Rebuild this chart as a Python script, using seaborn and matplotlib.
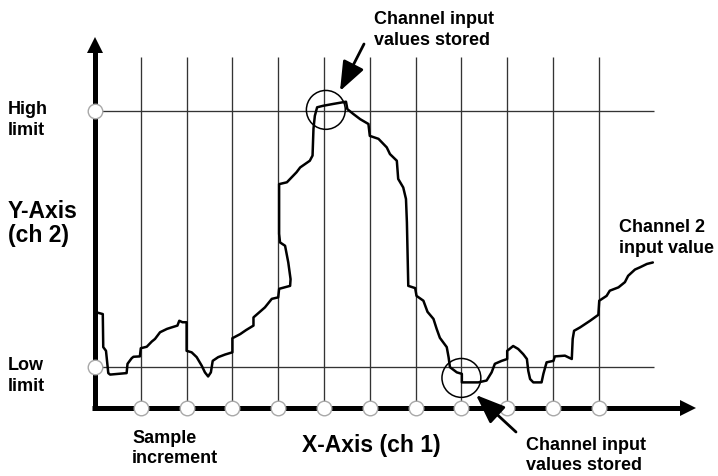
import matplotlib
matplotlib.use("Agg")
import matplotlib.pyplot as plt
import seaborn as sns
import pandas as pd

# Sample increments along the X axis (channel 1)
samples = [1, 2, 3, 4, 5, 6, 7, 8, 9, 10, 11]

# Limits on the Y axis (channel 2), in percent of full scale
low_limit = 11
high_limit = 80

# Channel 2 input trace: position in sample increments, value in percent
trace_x = [0.02, 0.17, 0.18, 0.24, 0.29, 0.33, 0.69, 0.71, 0.80, 0.84, 0.98, 1.00,
           1.13, 1.24, 1.31, 1.42, 1.57, 1.67, 1.80, 1.84, 1.91, 2.00, 2.00, 2.11,
           2.22, 2.33, 2.40, 2.47, 2.53, 2.57, 2.69, 2.84, 3.00, 3.00, 3.17, 3.30,
           3.46, 3.46, 3.71, 3.86, 4.00, 4.02, 4.26, 4.27, 4.22, 4.15, 4.04, 4.02,
           4.02, 4.19, 4.40, 4.48, 4.69, 4.75, 4.77, 4.80, 4.85, 4.98, 5.20, 5.48,
           5.51, 5.64, 5.79, 5.97, 6.00, 6.19, 6.37, 6.44, 6.59, 6.62, 6.73, 6.79,
           6.81, 6.84, 6.99, 7.02, 7.17, 7.26, 7.39, 7.46, 7.53, 7.68, 7.72, 7.75,
           7.90, 8.01, 8.01, 8.37, 8.55, 8.66, 8.73, 8.88, 9.00, 9.00, 9.13, 9.24,
           9.35, 9.43, 9.46, 9.50, 9.57, 9.75, 9.79, 9.86, 10.01, 10.04, 10.26, 10.41,
           10.43, 10.46, 10.59, 10.81, 10.99, 11.01, 11.17, 11.24, 11.43, 11.57, 11.64,
           11.79, 11.90, 12.05, 12.18]
trace_y = [25.8, 25.3, 16.4, 15.4, 9.4, 9.0, 9.4, 11.9, 13.4, 13.8, 13.9, 16.1,
           16.5, 17.9, 18.6, 20.4, 21.3, 21.7, 22.2, 23.5, 23.1, 23.1, 15.4, 15.0,
           13.7, 11.4, 9.6, 8.5, 9.6, 12.7, 13.7, 14.4, 15.0, 18.8, 19.9, 21.0,
           22.2, 24.4, 27.1, 29.4, 29.8, 32.1, 32.9, 34.7, 39.2, 43.7, 44.6, 46.9,
           60.3, 60.8, 63.5, 64.8, 66.6, 68.0, 75.2, 78.7, 81.0, 81.4, 81.9, 82.5,
           80.5, 79.2, 77.8, 76.5, 73.3, 72.5, 70.2, 68.4, 66.6, 61.7, 59.4, 56.3,
           50.0, 32.9, 32.3, 30.2, 28.9, 25.9, 24.0, 21.3, 18.9, 16.4, 13.7, 11.0,
           9.6, 9.2, 6.9, 6.9, 7.4, 9.6, 11.9, 12.7, 13.2, 15.4, 16.7, 15.9,
           14.5, 13.2, 10.0, 7.8, 6.9, 6.9, 9.2, 12.3, 12.7, 13.9, 14.1, 13.2,
           18.6, 20.8, 21.7, 23.5, 25.1, 28.9, 30.2, 31.6, 32.5, 33.9, 35.6,
           37.3, 37.9, 38.8, 39.2]

# Points where the stored values are highlighted
stored_x = [5.04, 8.0]
stored_y = [80.3, 8.1]

W, H = 718, 477
sns.set_theme(style="white")
plt.rcParams["font.family"] = ["Liberation Sans", "DejaVu Sans"]

fig = plt.figure(figsize=(W / 100, H / 100), dpi=100)
ax = fig.add_axes([0, 0, 1, 1])
px_per_x = 45.8
px_per_y = 3.7125
x0_px, y0_px = 95, 409
ax.set_xlim(-x0_px / px_per_x, (W - x0_px) / px_per_x)
ax.set_ylim(-(H - y0_px) / px_per_y, y0_px / px_per_y)
ax.axis("off")

grid_c = "#333333"
grid_top = 94.5
x_end = 12.2

# sample increment lines and limit lines
ax.vlines(samples, 0, grid_top, color=grid_c, lw=0.95, zorder=1)
ax.hlines([low_limit, high_limit], 0, x_end, color=grid_c, lw=0.95, zorder=1)

# axes with arrow heads
ax.plot([0, 0], [-0.6, 97], color="black", lw=3.6, solid_capstyle="butt", zorder=3)
ax.plot([-0.06, 12.85], [0, 0], color="black", lw=3.6, solid_capstyle="butt", zorder=3)
ax.plot([0], [97.7], marker="^", ms=12, color="black", mew=0, zorder=4)
ax.plot([12.95], [0], marker=">", ms=12, color="black", mew=0, zorder=4)

# channel 2 trace
trace = pd.DataFrame({"x": trace_x, "y": trace_y})
sns.lineplot(data=trace, x="x", y="y", sort=False, estimator=None, color="black",
             lw=1.8, ax=ax, zorder=5)

# sample markers on X axis and limit markers on Y axis
node_kw = dict(s=110, color="white", edgecolor="#a8a8a8", linewidth=1.0, zorder=6)
sns.scatterplot(x=samples, y=[0] * len(samples), ax=ax, **node_kw)
sns.scatterplot(x=[0, 0], y=[low_limit, high_limit], ax=ax, **node_kw)

# highlighted stored values
ax.scatter(stored_x, stored_y, s=28 ** 2, facecolors="none", edgecolors="black",
           linewidths=1.1, zorder=7)


def to_data(px, py):
    return ((px - x0_px) / px_per_x, (y0_px - py) / px_per_y)


arrow_kw = dict(arrowstyle="-|>,head_length=0.9,head_width=0.35", color="black",
                lw=2.0, mutation_scale=20, shrinkA=0, shrinkB=0)
ax.annotate("", xy=to_data(340, 92), xytext=to_data(364, 45), arrowprops=arrow_kw,
            zorder=8)
ax.annotate("", xy=to_data(476, 396), xytext=to_data(516, 433), arrowprops=arrow_kw,
            zorder=8)


def label(lines, left, baselines, size=13):
    for txt, base in zip(lines, baselines):
        fig.text(left / W, 1 - base / H, txt, fontsize=size, fontweight="bold",
                 ha="left", va="baseline", color="black")


label(["Channel input", "values stored"], 374, [24, 45])
label(["High", "limit"], 8, [114, 135])
label(["Low", "limit"], 8, [370, 391])
label(["Y-Axis", "(ch 2)"], 8, [218, 242], size=16.5)
label(["Channel 2", "input value"], 619, [232, 253])
label(["Sample", "increment"], 132, [443, 463])
label(["X-Axis (ch 1)"], 302, [452], size=16.5)
label(["Channel input", "values stored"], 526, [450, 470])

fig.savefig("out.png", dpi=100)
